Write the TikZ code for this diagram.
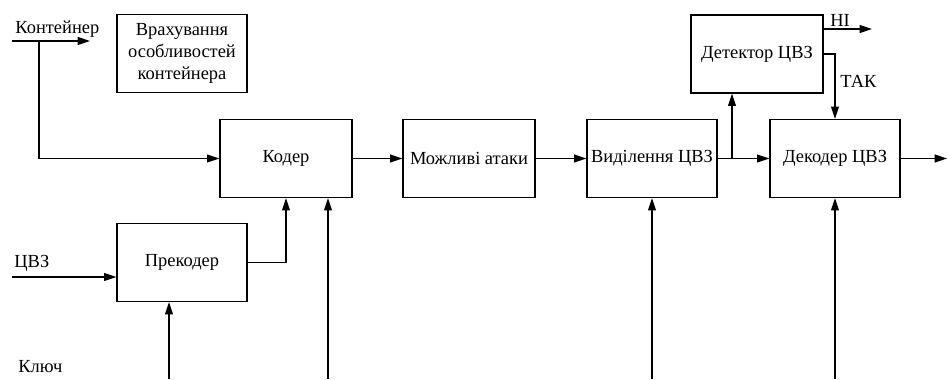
\documentclass[tikz,border=0pt]{standalone}
\usepackage{fontspec}
\setmainfont{Liberation Serif}
\usetikzlibrary{arrows.meta}

\begin{document}
\begin{tikzpicture}[x=0.02cm, y=-0.02cm, line width=0.75pt,
  blok/.style={draw, rectangle, minimum width=2.6cm, minimum height=1.56cm, align=center, inner sep=1pt, font=\fontsize{10.5}{12.5}\selectfont},
  lbl/.style={inner sep=1pt, font=\fontsize{10.5}{12}\selectfont},
  strl/.style={-{Triangle[length=7pt,width=4.5pt]}}
]
  \useasboundingbox (0,0) rectangle (947,379);

  \node[blok] (vrakh) at (182,53.5) {Врахування\\особливостей\\контейнера};
  \node[blok, minimum width=2.64cm] (koder) at (286,158.5) {Кодер};
  \node[blok] (prekoder) at (182,262.5) {Прекодер};
  \node[blok, minimum width=2.64cm] (ataky) at (469,158.5) {Можливі атаки};
  \node[blok] (vydil) at (652,158.5) {Виділення ЦВЗ};
  \node[blok, minimum width=2.64cm] (detektor) at (757,54) {Детектор ЦВЗ};
  \node[blok] (dekoder) at (835,158.5) {Декодер ЦВЗ};

  \node[lbl, anchor=west] (kont) at (13,29) {Контейнер};
  \node[lbl, anchor=west] (cvz) at (12,263) {ЦВЗ};
  \node[lbl, anchor=west] (kliuch) at (16,367) {Ключ};
  \node[lbl, anchor=west] (ni) at (828,20) {НІ};
  \node[lbl, anchor=west] (tak) at (838,81) {ТАК};

  \coordinate (kontin) at (12,41);
  \coordinate (kontout) at (90,41);
  \coordinate (rozg) at (39,41);
  \coordinate (cvzin) at (12,277);
  \coordinate (kl1) at (169,379);
  \coordinate (kl2) at (328,379);
  \coordinate (kl3) at (652,379);
  \coordinate (kl4) at (835,379);
  \coordinate (vuzol) at (732,158.5);
  \coordinate (niout) at (872,29);
  \coordinate (vyhid) at (947,158.5);

  % koder
  \draw[strl] (kontin) -- (kontout);
  \draw[strl] (rozg) |- (koder.west);
  \draw[strl] (cvzin) -- (cvzin -| prekoder.west);
  \draw[strl] (prekoder.east) -| (koder.south);
  \draw[strl] (kl1) -- (kl1 |- prekoder.south);
  \draw[strl] (kl2) -- (kl2 |- koder.south);

  % kanal
  \draw[strl] (koder) -- (ataky);
  \draw[strl] (ataky) -- (vydil);

  % dekoder
  \draw[strl] (kl3) -- (vydil.south);
  \draw[strl] (kl4) -- (dekoder.south);
  \draw[strl] (vydil) -- (dekoder);
  \draw[strl] (vuzol) -- (vuzol |- detektor.south);
  \draw[strl] (detektor.east |- niout) -- (niout);
  \draw[strl] (detektor.east) -| (dekoder.north);
  \draw[strl] (dekoder) -- (vyhid);
\end{tikzpicture}
\end{document}
